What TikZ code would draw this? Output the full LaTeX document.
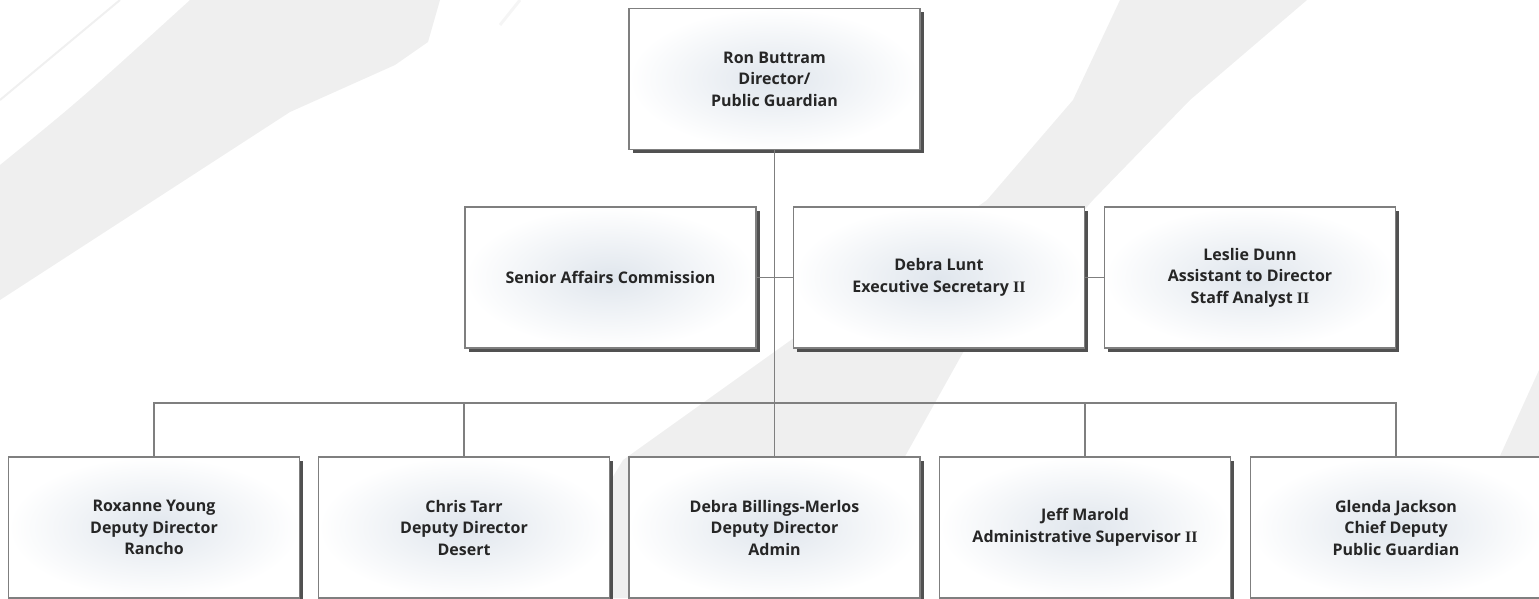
\documentclass[tikz,border=0pt]{standalone}
\usepackage{fontspec}
\setmainfont{Open Sans}
\newfontfamily\romfont{Liberation Serif}
\usetikzlibrary{shadows}
\definecolor{linegray}{HTML}{7F7F7F}
\definecolor{txtgray}{HTML}{262626}
\definecolor{glow}{HTML}{E0E6ED}
\definecolor{swoosh}{HTML}{EFEFEF}
\newcommand{\romnum}[1]{{\romfont\bfseries #1}}

\begin{document}
\begin{tikzpicture}[x=1pt,y=-1pt,
    orgbox/.style={draw=linegray, line width=1.3pt, inner color=glow, outer color=white,
      minimum width=291pt, minimum height=141pt, align=center, text=txtgray,
      font=\fontsize{16}{21.5}\selectfont\bfseries,
      drop shadow={shadow xshift=3.5pt, shadow yshift=-3.5pt, fill=black!80, opacity=.85}},
    link/.style={draw=linegray, line width=1.3pt}]

\useasboundingbox (0,0) rectangle (1539,598);

% faint swooshes behind the chart
\fill[swoosh] (190,0) -- (440,0) -- (428,42) -- (395,65) -- (290,112) -- (0,300) -- (0,165) .. controls (80,100) .. (190,0) -- cycle;
\draw[gray!12, line width=2pt] (120,0) -- (0,100);
\draw[gray!8, line width=3pt] (520,0) -- (500,25);
\fill[swoosh] (1120,0) -- (1307,0) -- (1190,100) -- (1093,200) -- (970,340) -- (903,460) -- (835,598) -- (540,598) -- (623,460) -- (763,360) -- (987,200) -- (1073,100) -- cycle;
\fill[swoosh] (1539,370) -- (1539,520) -- (1480,500) -- cycle;

% boxes
\node[orgbox] (dir) at (774.5,79) {Ron Buttram\\Director/\\Public Guardian};

\node[orgbox] (sac) at (610.5,277.5) {Senior Affairs Commission};
\node[orgbox] (lunt) at (939,277.5) {Debra Lunt\\Executive Secretary \romnum{II}};
\node[orgbox] (dunn) at (1250,277.5) {Leslie Dunn\\Assistant to Director\\Staff Analyst \romnum{II}};

\node[orgbox] (young) at (154,527.5) {Roxanne Young\\Deputy Director\\Rancho};
\node[orgbox] (tarr) at (464,527.5) {Chris Tarr\\Deputy Director\\Desert};
\node[orgbox] (billings) at (774.5,527.5) {Debra Billings-Merlos\\Deputy Director\\Admin};
\node[orgbox] (marold) at (1085,527.5) {Jeff Marold\\Administrative Supervisor \romnum{II}};
\node[orgbox] (jackson) at (1396,527.5) {Glenda Jackson\\Chief Deputy\\Public Guardian};

% connectors
\coordinate (bus) at (774.5,403);
\draw[link] (dir.south) -- (billings.north);
\draw[link] (sac.east) -- (lunt.west);
\draw[link] (lunt.east) -- (dunn.west);
\draw[link] (young.north) |- (bus) -| (jackson.north);
\foreach \n in {tarr,marold}
  \draw[link] (\n.north) -- (\n.north |- bus);
\end{tikzpicture}
\end{document}
